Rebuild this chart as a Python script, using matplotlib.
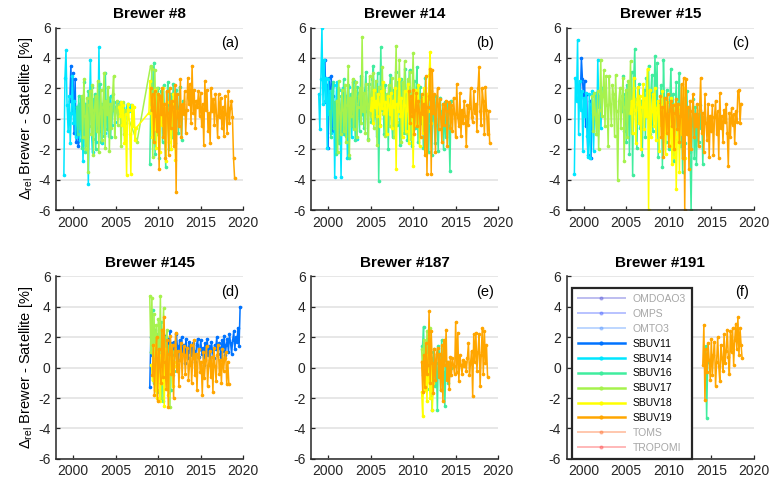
# -*- coding: utf-8 -*-
"""
Brewer minus satellite relative ozone differences, six stations
"""
import numpy as np
import matplotlib.pyplot as plt
from matplotlib.lines import Line2D

###############################################################################
# data (8 samples per year from each start year,
# None marks a break in the line)

DT = 1.0 / 8.0

sat_names = ['OMDOAO3', 'OMPS', 'OMTO3', 'SBUV11', 'SBUV14', 'SBUV16',
             'SBUV17', 'SBUV18', 'SBUV19', 'TOMS', 'TROPOMI']
sat_active = [False, False, False, True, True, True, True, True, True, False, False]

titles = ['Brewer #8', 'Brewer #14', 'Brewer #15',
          'Brewer #145', 'Brewer #187', 'Brewer #191']
panel_tags = ['(a)', '(b)', '(c)', '(d)', '(e)', '(f)']

# --- Brewer #8 -----------------------------------------------------------
a_sbuv11 = [(1999.6, [1.2, 3.5, 0.4, 3.0, -0.9, 2.6, -1.5, 0.8, -1.8, -1.4])]
a_sbuv14 = [(1998.9, [-3.7, 2.7, 4.5, 0.9, -0.8, 1.5, -1.6, 0.4,
                      2.8, -0.3, 1.2, -1.2, 0.6, -0.5, 1.0, -1.4,
                      0.3, 1.1, -2.8, 0.4, 1.0, -1.7, 0.8, -4.3,
                      0.2, 3.9, -1.0, -2.2, 1.3, 0.5, -1.5, 1.4,
                      -0.6, 4.7, -0.5, 1.0, -1.6, 0.8, 2.0, -0.9,
                      1.2, 0.3, -1.1, 0.9, 1.5, -0.4, 0.6, 1.1,
                      -0.2, 0.8, 1.0, 0.4, 0.9, 1.1, 0.7, 0.2,
                      1.0, 0.6, -0.3, 0.8, 1.0, 0.5, 0.7, 0.9])]
a_sbuv16 = [(2000.4, [0.8, -1.0, 1.5, -0.6, 1.3, -1.9, 0.2, 2.4, -2.2, 0.9, -1.2, 1.8,
                      -0.5, 0.6, 2.1, -1.3, 0.4, 1.6, -2.0, 0.7, 1.2, -0.8, 2.3, -1.5,
                      0.5, 1.0, -1.1, 3.0, 0.2, -0.7, 1.4, 0.9, -1.2, 0.6, 1.1]),
            None,
            (2009.0, [-3.0, 1.2, 3.4, -0.8, 3.7, -2.3, 1.5, -1.0, 2.0, -2.6, 0.6, 1.8,
                      -1.5, 2.2, -0.3, -3.2, 1.0, 2.4, -2.0, 0.5, 1.6, -1.2, 2.3, 0.1,
                      -1.6, 1.9, 0.8, -0.9, 2.1, 0.4, -1.4, 1.2, 0.6])]
a_sbuv17 = [(2001.0, [1.5, -1.2, 2.6, 0.2, -2.0, 1.4, -3.5, 0.9, 1.8, -1.0, 2.2, -2.4,
                      0.6, 1.5, -0.8, 2.5, -2.2, 0.4, 1.9, -1.4, 0.8, 3.0, -1.9, 1.2,
                      0.3, 2.1, -2.1, 1.0, -0.6, 1.6, 2.8, -1.2, 0.5, 1.2, -0.4, 0.9,
                      1.0, -1.8, 0.3, 1.1, -1.0, 0.6]),
            (2007.5, [-1.5]),
            (2009.1, [3.5, 3.3, -2.5, 1.0, 3.2, -0.5, 2.0])]
a_sbuv18 = [(2005.4, [0.8, 0.2, 1.1, -0.4, 0.9, -1.6, 0.3, -3.7, 1.0, 0.6, -1.0, -3.6,
                      0.9, -0.5, 0.8, -1.4, -0.6]),
            (2008.9, [0.4, 2.5, 0.8, -1.2, 1.5, -0.7, 1.9, -1.9, 0.3, 1.6, -2.2, 0.9,
                      -0.4, 2.0, -1.0, 0.7, -2.8, 1.1, 0.2, -1.5, 0.8, -2.0, 0.4, 1.6,
                      -0.6, -2.7, 0.5])]
a_sbuv19 = [(2009.1, [2.0, 0.6, 1.6, -1.5, 1.8, 0.2, -0.8, 1.6,
                      -3.3, 1.5, 0.3, 2.0, -1.2, 1.0, -2.6, 1.8,
                      0.4, -2.4, 2.0, -0.6, 1.2, 0.8, -1.8, 2.2,
                      -4.8, 1.6, 0.2, -0.5, 2.6, -1.2, 1.0, 0.3,
                      1.8, -0.9, 0.6, 2.7, 1.0, 2.3, -0.3, 3.5,
                      0.4, 1.9, -0.6, 1.2, 0.8, 1.8, 0.2, 1.7,
                      -0.5, 1.0, -1.7, 2.5, 0.6, 1.9, -0.8, 0.4,
                      -1.6, 2.0, 0.5, 1.3, -0.4, 1.6, 0.2, -1.2,
                      1.6, 0.1, 1.4, -0.6, 0.8, -1.1, 1.5, 0.3,
                      -0.9, 1.8, -0.3, 0.7, 1.2, 0.1, -2.6, -3.9])]

# --- Brewer #14 ----------------------------------------------------------
b_sbuv11 = [(1999.5, [2.5, 3.9, 1.1, 2.2, -1.9, 2.7, 0.4, 2.8, -0.8, 1.5])]
b_sbuv14 = [(1998.9, [1.6, -0.7, 2.6, 6.0, 1.0, 3.9, 1.2, 2.7,
                      -1.9, 2.6, 0.3, 1.8, -0.9, 1.1, 2.2, -3.8,
                      0.8, 2.4, -1.4, 1.9, 0.5, -3.8, 1.0, 2.0,
                      -1.0, 0.8, 1.5, -2.6, 2.1, 0.4, 1.3, -1.2,
                      0.7, 2.5, -0.5, 1.4, -1.3, 0.9, 1.7, 0.2])]
b_sbuv16 = [(2000.2, [0.5, -1.2, 1.8, 2.4, -0.6, 1.1, -2.3, 0.9,
                      2.0, -1.6, 0.3, 1.5, -0.9, 2.6, 0.4, -1.1,
                      1.3, 2.2, -2.6, 0.8, 1.6, -0.5, 2.4, 1.0,
                      -1.4, 0.6, 2.1, 1.2, -0.8, 2.8, 0.3, 1.7,
                      -0.6, 1.9, 3.1, 0.5, -1.3, 2.3, 1.4, -0.2,
                      2.6, 3.5, 0.2, 1.5, -1.1, 3.0, -4.1, 0.8,
                      4.7, 0.6, 1.8, -1.0, 2.2, 0.4, 1.3, -2.0,
                      1.6, 2.9, 0.2, -1.2, 1.9, 0.7, 3.1, -0.4,
                      2.4, 1.0, -1.7, 2.6, 0.3, 1.5, -0.9, 3.3,
                      0.5, -1.4, 2.0, 3.2, 0.1, -1.8, 1.2, 2.5,
                      -0.6, 1.7, 3.4, -1.5, 0.8, 2.1, -0.3, 1.4,
                      -1.9, 0.9, 2.7, -0.8, 1.3, -2.2, 0.6, 1.8,
                      -2.4, 1.1, 0.2, -1.6, 1.5, -0.4, -2.1, 0.9,
                      1.4, -0.7, 0.5, -2.0, 1.1, -1.2, 0.3, 1.0,
                      -0.5, -3.4, 1.2, 0.4])]
b_sbuv17 = [(2001.0, [1.2, -2.2, 2.5, 0.4, -1.0, 1.9, 0.6, -0.8,
                      2.2, -1.5, 0.9, 3.5, -2.4, 1.4, 0.2, 2.6,
                      -0.7, 1.8, 2.4, -1.2, 0.8, 1.5, 2.0, -0.3,
                      5.4, 0.5, 1.7, -0.9, 2.3, 1.0, -1.4, 2.8,
                      0.2, 1.6, 3.0, -0.6, 1.2, 2.5, -1.7, 1.0,
                      2.1, -0.4, 1.4, 3.4, 0.3, 1.9, -1.1, 1.6,
                      0.8, 2.2, -0.5, 1.3, 2.7, 0.5, -1.2, 1.8,
                      4.8, -0.2, 1.1, 3.9, 0.6, -1.5, 2.4, 1.0,
                      3.8, -0.9, 1.5, 2.6, 0.2, 3.1, -1.3, 1.7,
                      4.3, 0.5])]
b_sbuv18 = [(2005.0, [0.6, 1.4, -0.3, 1.9, 0.8, 1.2, 0.2, 1.6,
                      1.0, -0.5, 1.8, 0.7, 2.4, 0.4, 1.1, -1.0,
                      1.5, 0.9, 0.3, 1.7, -0.6, 1.2, 0.8, 2.0,
                      -3.3, 1.0, 0.5, 2.6, 0.2, 1.4, -1.2, 0.9,
                      1.8, -0.8, 0.6, 2.3, -1.6, 1.1, 0.4, 1.5,
                      -3.1, 0.7, 1.9, -0.4, 1.0, 2.2, -1.8, 0.3,
                      1.3, -0.9, 2.0, 0.1, -2.3, 1.6, 0.5, 2.9,
                      4.4, -0.3])]
b_sbuv19 = [(2009.5, [1.8, -0.3, 1.5, 0.2, 1.9, -1.0, 0.6, 1.7,
                      -0.5, 1.2, 0.4, -1.2, 1.6, 0.3, 1.0, -2.4,
                      2.8, -3.6, 0.8, 1.5, 3.3, -3.6, 3.2, 0.4,
                      1.6, -2.2, 0.9, 2.0, -0.7, 1.3, 0.1, -1.5,
                      1.0, -0.4, 0.8, 1.2, -1.8, 0.5, 1.1, -0.6,
                      0.9, -0.8, 1.4, 0.3, -1.2, 2.3, 0.1, -0.5,
                      1.7, -1.1, 0.6, -0.3, 1.2, 0.2, -1.8, 0.9,
                      -0.4, 0.7, 2.0, 0.1, -0.2, 1.8, 0.4, 1.0,
                      -0.8, 2.0, 3.4, 0.5, -0.4, 2.0, 1.2, -1.0,
                      2.1, 0.6, -1.0, 0.5, -1.6])]

# --- Brewer #15 ----------------------------------------------------------
c_sbuv11 = [(1999.6, [1.5, 4.0, 2.6, 1.4, 2.5, -0.5, 1.6, -2.4, -1.4, 1.2, -2.6, 0.3])]
c_sbuv14 = [(1998.9, [-3.6, 2.7, 1.2, 5.2, -1.0, 2.5, 0.6, 1.8,
                      -2.1, 1.4, 0.2, 1.7, -1.1, -2.5, 1.6, -2.6,
                      1.0, 1.8, -2.1, 0.5, 1.7, -1.0, 3.9, 0.8,
                      1.5, -0.6, 2.0])]
c_sbuv16 = [(2004.5, [0.5, 2.8, -0.8, 1.6, -1.5, 2.2, 0.9, -2.3,
                      1.4, 3.1, -3.7, 2.6, 4.6, 0.3, -1.9, 1.0,
                      2.3, -0.6, 1.2, -2.4, 0.8, 1.9, -1.2, 2.7,
                      0.1, 3.5, -1.0, 1.5, 2.9, -0.8, 1.1, 4.1,
                      0.6, 3.7, -2.5, 1.2, 0.3, 2.2, -3.2, 3.9,
                      0.8, -1.5, 1.9, 0.4, -2.0, 1.3, 3.3, -0.7,
                      1.6, -2.8, 0.5, 2.4, -1.3, 1.0, 3.0, -1.8,
                      0.9, -3.5, 1.4, -1.6, 0.2, 1.8, -1.0, 0.6,
                      -2.2, -6.0, -0.4, 1.3, -2.6, 0.8, -3.0, 0.3,
                      -1.5, 0.9, -0.6, 0.4, -3.0, 0.1])]
c_sbuv17 = [(2001.0, [1.5, -0.8, 1.7, 0.3, -1.0, 1.8, -2.0, 0.6,
                      3.9, 0.2, 1.5, 3.2, -0.5, 2.8, 0.9, -1.8,
                      2.8, 1.0, -0.4, 2.2, 1.6, -1.1, 2.9, 0.5,
                      -4.0, 1.2, 2.0, -0.6, 1.5, 2.7, -2.8, 0.8,
                      1.9, -1.2, 2.5, 0.4, 3.8, -0.9, 1.4, 2.0,
                      0.7, 1.3])]
c_sbuv18 = [(2005.5, [0.4, 1.2, -0.9, 2.7, 0.6, -1.6, 1.0, 2.1,
                      -0.3, 1.5, -2.0, 0.8, 2.3, -0.7, 1.4, 0.2,
                      3.3, -6.0, 1.9, -1.2, 0.5, 1.6, -0.5, 2.0,
                      -1.4, 0.7, 1.2, -2.1, 0.9, -0.4, 1.8, -1.0,
                      0.6, -2.3, 1.1, -0.8, 0.3, -1.7, 1.4, -3.0,
                      0.2, -2.5, 1.0, -4.6, -1.2, 0.5, -3.5, 0.8,
                      -1.0, 0.4, 2.0, -2.6])]
c_sbuv19 = [(2009.0, [1.5, -1.2, 0.8, -2.5, 1.4, 0.3, -0.9, 1.6,
                      -1.8, 0.6, 1.2, -0.5, 0.9, -2.0, 0.4, 1.3,
                      -0.7, 1.0, -1.5, 0.2, 2.3, -2.6, 2.7, -6.0,
                      2.6, -1.0, 0.8, -3.3, 1.2, -2.0, 0.5, 1.6,
                      -1.2, 0.3, -0.5, 1.0, -1.8, 0.6, 2.7, -0.9,
                      0.4, -2.2, 1.6, -0.3, -1.4, 1.0, -2.5, 0.2,
                      -0.8, 0.9, -2.4, 0.1, 1.2, -1.0, 0.5, -2.6,
                      1.7, -0.6, 0.2, -1.5, 0.6, -0.2, 1.0, -0.9,
                      -3.1, 0.4, -1.2, 0.7, -0.4, 0.3, -1.6, 0.5,
                      -0.2, 1.8, 1.9, -0.3, 1.0])]

# --- Brewer #145 ---------------------------------------------------------
d_sbuv11 = [(2009.0, [-1.3, 2.0, 0.8, 1.6, 0.3, 1.9, 1.2, 0.6,
                      1.8, 1.1, 2.3, 0.9, 1.5, 0.4, 2.1, 1.3,
                      0.7, 1.9, 1.2, 2.4, 0.8, 1.6, 0.2, 1.7,
                      1.0, 2.2, 1.4, 0.5, 1.8, 1.1, 2.0, 0.9,
                      1.5, 0.3, 1.9, 1.2, 0.6, 1.7, 1.0, 1.4,
                      0.8, 1.6, 1.1, 0.4, 1.5, 1.9, 0.7, 1.2,
                      1.8, 0.9, 1.3, 0.2, 1.6, 1.0, 1.9, 0.8,
                      1.4, 0.5, 1.7, 1.1, 0.6, 1.5, 1.2, 2.0,
                      0.9, 1.6, 1.3, 0.7, 1.8, 1.1, 2.1, 0.8,
                      1.5, 1.9, 1.0, 2.2, 1.6, 0.9, 1.8, 2.4,
                      1.2, 2.0, 1.7, 2.6, 1.4, 4.0])]
d_sbuv16 = [(2009.2, [1.0, 3.8, -1.0, 2.5, 0.4, -1.6, 2.2, 1.2, -0.5, 3.0, 0.8, -2.2,
                      1.6, 0.1, 2.0, -0.8, 1.4, 0.5, -1.5, 1.1, 0.6, -0.2, 0.9])]
d_sbuv17 = [(2009.0, [4.7, 1.0, 4.6, -0.8, 3.5, 0.2, 2.8, -1.5, 3.2, 0.5, 4.7, -2.0,
                      1.8, 3.9, -0.6, 1.2, 2.5, -1.2, 0.8, -2.6, 1.5, 0.3, -0.5, 1.0])]
d_sbuv18 = [(2009.2, [0.2, -0.8, 1.5, -1.5, 0.4, -2.0, 1.0, -0.5, -2.2, 0.8, -1.0, 0.5,
                      -2.5, 1.2, -0.6, 0.2, -1.8, 0.9, -0.3, 0.6, -1.2, 0.4, 0.1])]
d_sbuv19 = [(2009.3, [-0.5, 1.5, -1.8, 0.6, 2.0, -2.2, 1.2, 0.1,
                      -1.0, 2.5, -0.6, 3.3, 0.4, -1.4, 1.8, -2.6,
                      0.9, 2.1, -0.4, 1.5, -2.0, 0.8, 2.3, -0.2,
                      1.1, -1.2, 0.5, 1.6, -0.6, 0.9, 1.4, -0.4,
                      0.8, 1.3, -0.8, 0.2, 1.5, -1.0, 0.6, 1.8,
                      -0.5, 0.9, -1.5, 0.7, 1.2, -0.3, 0.4, -1.8,
                      1.0, -0.7, 0.5, 1.4, -1.2, 0.2, 1.1, -0.6,
                      0.7, -1.6, 1.3, 0.1, -0.9, 0.8, 1.5, -0.4,
                      0.5, -1.0, 1.2, -0.2, 0.6, 1.0, -1.1, 0.4,
                      -1.1])]

# --- Brewer #187 ---------------------------------------------------------
e_sbuv16 = [(2011.1, [1.4, 2.7, -0.6, 1.5, -1.4, 0.4, 2.5, -0.2, 1.0, -2.8, 0.6, 1.2,
                      -1.2, 0.3, -2.8, 1.4, 0.8, -1.5, 1.8, -0.3, 0.5, -2.5, 0.1, 0.4,
                      -1.0, 0.2, -0.5, 0.0])]
e_sbuv17 = [(2011.0, [1.2, -0.5, 1.8, 0.2, -1.4, 2.4, 0.6, -0.8, 2.6])]
e_sbuv18 = [(2011.0, [-1.6, -3.2, 0.5, -1.5, 0.2, -2.2, 0.8, -0.9, -2.0, 0.3, -2.8, -1.0])]
e_sbuv19 = [(2011.0, [0.4, -1.6, 0.8, -1.3, 1.6, -0.4, 0.2, 3.7,
                      -1.0, 2.4, 0.3, -1.7, 1.2, -0.8, 0.9, 1.3,
                      -0.6, 0.9, -1.5, 1.5, -2.2, 1.8, 0.2, 2.5,
                      -0.8, 0.4, -1.4, 0.7, -0.5, 0.6, 0.1, -0.4,
                      3.0, -0.3, 2.3, -0.9, 0.8, 0.2, -0.4, 0.5,
                      0.1, 0.4, -0.2, 0.6, 1.6, -0.5, 0.3, 1.1,
                      -1.9, 2.2, 0.4, 2.3, -0.2, 1.0, 2.2, -1.2,
                      0.8, 2.6, -0.4, 2.4, 0.3, 1.5, -0.6])]

# --- Brewer #191 ---------------------------------------------------------
f_sbuv16 = [(2014.2, [0.6, 1.4, -3.3, 0.4])]
f_sbuv19 = [(2014.0, [0.2, 2.8, -2.1, 1.2, -0.3, 1.6, 0.5, -0.8,
                      1.9, -0.5, 0.8, 1.7, -1.2, 0.4, 2.0, 0.1,
                      -0.9, 1.5, 0.6, -0.2, 2.2, 0.3, 1.1, 2.5,
                      0.7, -0.4, 2.4, 1.0, 2.6, 0.2, 1.8, 2.9,
                      1.2, 3.3, 0.8, 2.6, 1.5, 0.6])]

panel_data = [
    {'SBUV11': a_sbuv11, 'SBUV14': a_sbuv14, 'SBUV16': a_sbuv16,
     'SBUV17': a_sbuv17, 'SBUV18': a_sbuv18, 'SBUV19': a_sbuv19},
    {'SBUV11': b_sbuv11, 'SBUV14': b_sbuv14, 'SBUV16': b_sbuv16,
     'SBUV17': b_sbuv17, 'SBUV18': b_sbuv18, 'SBUV19': b_sbuv19},
    {'SBUV11': c_sbuv11, 'SBUV14': c_sbuv14, 'SBUV16': c_sbuv16,
     'SBUV17': c_sbuv17, 'SBUV18': c_sbuv18, 'SBUV19': c_sbuv19},
    {'SBUV11': d_sbuv11, 'SBUV16': d_sbuv16, 'SBUV17': d_sbuv17,
     'SBUV18': d_sbuv18, 'SBUV19': d_sbuv19},
    {'SBUV16': e_sbuv16, 'SBUV17': e_sbuv17, 'SBUV18': e_sbuv18, 'SBUV19': e_sbuv19},
    {'SBUV16': f_sbuv16, 'SBUV19': f_sbuv19},
]

###############################################################################
# style

sat_colors = {
    'OMDOAO3': (0.35, 0.35, 0.85),
    'OMPS':    (0.30, 0.40, 1.00),
    'OMTO3':   (0.35, 0.60, 1.00),
    'SBUV11':  (0.00, 0.45, 1.00),
    'SBUV14':  (0.00, 0.90, 1.00),
    'SBUV16':  (0.25, 0.93, 0.62),
    'SBUV17':  (0.65, 0.95, 0.30),
    'SBUV18':  (1.00, 1.00, 0.00),
    'SBUV19':  (1.00, 0.65, 0.00),
    'TOMS':    (1.00, 0.45, 0.20),
    'TROPOMI': (1.00, 0.30, 0.30),
}

plt.rcParams['font.family'] = ['Liberation Sans', 'DejaVu Sans']
plt.rcParams['mathtext.fontset'] = 'custom'
plt.rcParams['mathtext.rm'] = 'Liberation Sans'
plt.rcParams['mathtext.it'] = 'Liberation Sans:italic'
plt.rcParams['axes.unicode_minus'] = False
axis_col = '#262626'
tick_fs = 10


def series(segments):
    # join the segments; None leaves a gap in the line
    x, y = [], []
    for seg in segments:
        if seg is None:
            x.append(np.nan)
            y.append(np.nan)
            continue
        t0, vals = seg
        x.extend(t0 + DT * np.arange(len(vals)))
        y.extend(vals)
    return np.array(x), np.array(y)


###############################################################################
# figure

fig = plt.figure(figsize=(7.7, 4.84), dpi=100)
lefts = [0.073, 0.404, 0.736]
bottoms = [0.566, 0.052]
w, h = 0.243, 0.377

axes = []
for k in range(6):
    ax = fig.add_axes([lefts[k % 3], bottoms[k // 3], w, h])
    axes.append(ax)

    for name in sat_names:
        if name not in panel_data[k]:
            continue
        x, y = series(panel_data[k][name])
        ax.plot(x, y, '-', marker='.', ms=3.2, lw=1.1, color=sat_colors[name])

    ax.set_xlim(1998, 2020)
    ax.set_ylim(-6, 6)
    ax.set_xticks([2000, 2005, 2010, 2015, 2020])
    ax.set_yticks([-6, -4, -2, 0, 2, 4, 6])
    ax.yaxis.grid(True, color='#e3e3e3', lw=1.2)
    ax.set_axisbelow(True)
    for side in ['top', 'right']:
        ax.spines[side].set_visible(False)
    for side in ['left', 'bottom']:
        ax.spines[side].set_color(axis_col)
        ax.spines[side].set_linewidth(1.1)
    ax.tick_params(direction='in', length=3, width=0.9, colors=axis_col,
                   labelsize=tick_fs, pad=4)
    ax.set_title(titles[k], fontsize=11, fontweight='bold', pad=7)
    ax.text(0.975, 0.955, panel_tags[k], transform=ax.transAxes,
            ha='right', va='top', fontsize=10.5, color='k')
    if k % 3 == 0:
        ax.set_ylabel(r'$\Delta_{\rm rel}$ Brewer - Satellite [%]', fontsize=10.5,
                      labelpad=2)

# legend in the last panel
handles = []
for name, on in zip(sat_names, sat_active):
    handles.append(Line2D([], [], color=sat_colors[name], lw=1.8 if on else 1.4,
                          marker='.', ms=4, alpha=1.0 if on else 0.4))
leg = axes[5].legend(handles, sat_names, loc='upper left',
                     bbox_to_anchor=(0.03, 0.935), borderaxespad=0.0,
                     fontsize=7.5, handlelength=4.5, handletextpad=0.75,
                     labelspacing=0.47, borderpad=0.55, numpoints=1,
                     frameon=True, fancybox=False, framealpha=1.0,
                     edgecolor=axis_col)
leg.get_frame().set_linewidth(1.6)
for txt, on in zip(leg.get_texts(), sat_active):
    txt.set_color('k' if on else '#a6a6a6')

plt.savefig('out.png', dpi=100)
